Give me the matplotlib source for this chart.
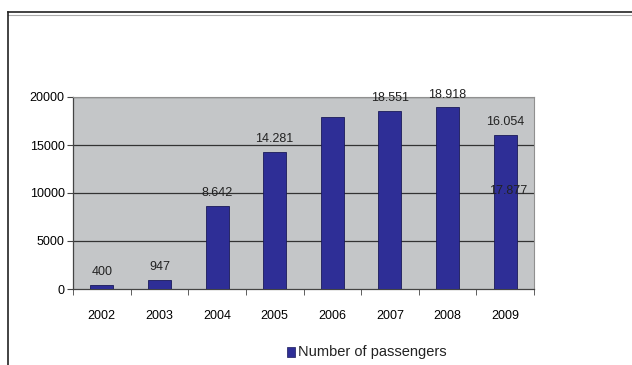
import matplotlib
matplotlib.use("Agg")
import matplotlib.pyplot as plt
from matplotlib.patches import Rectangle
from matplotlib.lines import Line2D
import numpy as np

plt.rcParams['font.family'] = ['Liberation Sans', 'DejaVu Sans']

years = ["2002", "2003", "2004", "2005", "2006", "2007", "2008", "2009"]
passengers = [400, 947, 8642, 14281, 17877, 18551, 18918, 16054]
labels = ["400", "947", "8.642", "14.281", "17.877", "18.551", "18.918", "16.054"]
yticks = [0, 5000, 10000, 15000, 20000]

W, H = 632, 365
fig = plt.figure(figsize=(W / 100, H / 100), dpi=100)

# outer frame lines
fig.add_artist(Line2D([8 / W, 1], [1 - 12 / H, 1 - 12 / H], color="#222222", lw=1.2))
fig.add_artist(Line2D([8 / W, 1], [1 - 14.5 / H, 1 - 14.5 / H], color="#aaaaaa", lw=0.8))
fig.add_artist(Line2D([8 / W, 8 / W], [0, 1 - 12 / H], color="#222222", lw=1.2))

left, right, top, bottom = 73, 534, 97, 289
ax = fig.add_axes([left / W, 1 - bottom / H, (right - left) / W, (bottom - top) / H])
ax.set_facecolor("#c4c6c8")

x = np.arange(len(years))
ax.bar(x, passengers, width=0.4, color="#2e2e96", edgecolor="#1a1a5a", linewidth=0.6, zorder=3)

ax.set_xlim(-0.5, len(years) - 0.5)
ax.set_ylim(0, 20000)
ax.set_yticks(yticks)
ax.set_yticklabels([str(v) for v in yticks], fontsize=9)
for v in yticks[1:]:
    ax.axhline(v, color="#333333", lw=0.9, zorder=2)

ax.set_xticks(x)
ax.set_xticklabels(years, fontsize=9)
ax.tick_params(axis="x", length=0, pad=15)
ax.set_xticks(np.arange(-0.5, len(years), 1.0), minor=True)
ax.tick_params(axis="x", which="minor", length=4, direction="out", color="#444444")
ax.tick_params(axis="y", length=4, direction="out", color="#444444", pad=2)

for s in ["top", "right"]:
    ax.spines[s].set_color("#909090")
    ax.spines[s].set_linewidth(0.8)
for s in ["left", "bottom"]:
    ax.spines[s].set_color("#444444")
    ax.spines[s].set_linewidth(0.9)

for i, (v, t) in enumerate(zip(passengers, labels)):
    if i == 4:
        ax.text(7.05, 10200, t, ha="center", va="center", fontsize=9, color="#222222", zorder=4)
    else:
        ax.text(i, v + 700, t, ha="center", va="bottom", fontsize=9, color="#222222", zorder=4)

# legend
fig.add_artist(Rectangle((287 / W, 1 - 357 / H), 8 / W, 10 / H, facecolor="#2e2e96",
                         edgecolor="#1a1a5a", lw=0.5, transform=fig.transFigure))
fig.text(298 / W, 1 - 352 / H, "Number of passengers", fontsize=10.5, va="center", ha="left",
         color="#222222")

fig.savefig("out.png", dpi=100)
